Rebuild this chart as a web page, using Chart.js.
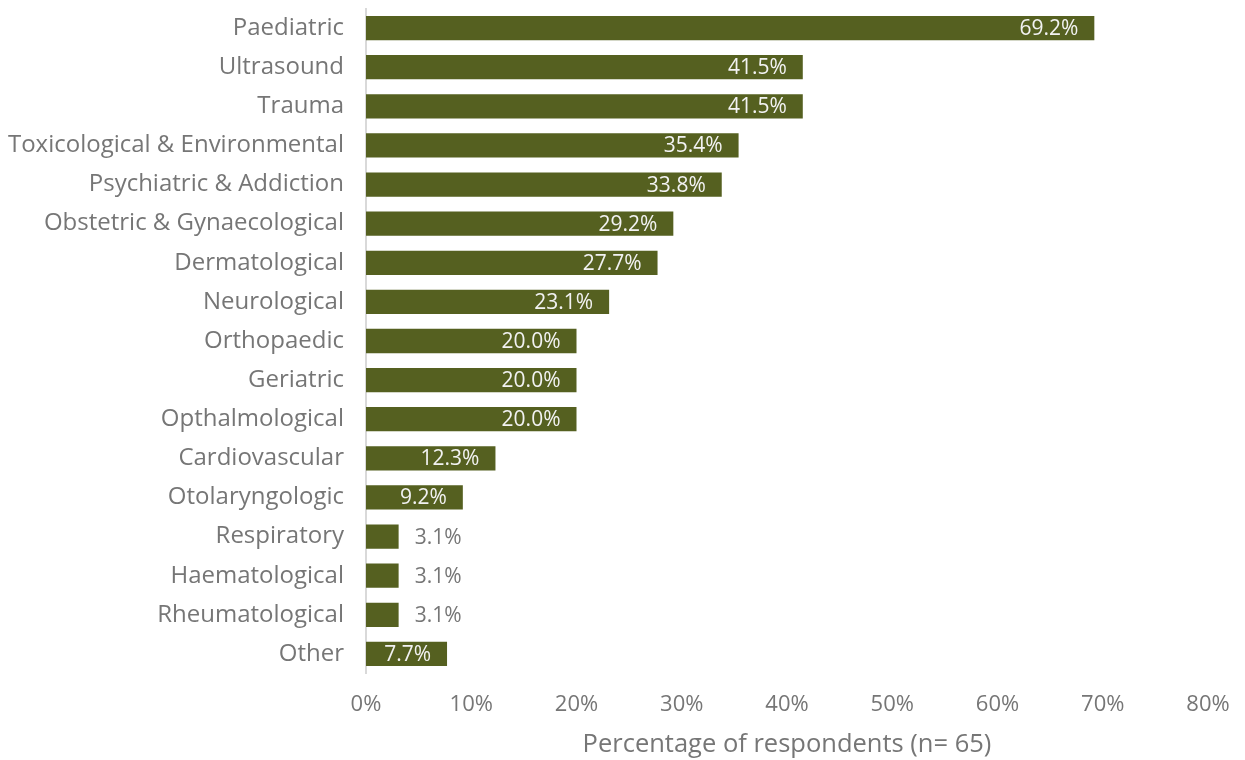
<!DOCTYPE html>
<html>
<head>
<meta charset="utf-8">
<script src="https://cdn.jsdelivr.net/npm/chart.js@4/dist/chart.umd.min.js"></script>
<style>
  html, body { margin: 0; padding: 0; background: #fff; }
  #wrap { width: 1245px; height: 760px; }
</style>
</head>
<body>
<div id="wrap"><canvas id="chart"></canvas></div>
<script>
const categories = [
  'Paediatric', 'Ultrasound', 'Trauma', 'Toxicological & Environmental',
  'Psychiatric & Addiction', 'Obstetric & Gynaecological', 'Dermatological',
  'Neurological', 'Orthopaedic', 'Geriatric', 'Opthalmological',
  'Cardiovascular', 'Otolaryngologic', 'Respiratory', 'Haematological',
  'Rheumatological', 'Other'
];
const percentages = [69.2, 41.5, 41.5, 35.4, 33.8, 29.2, 27.7, 23.1, 20.0, 20.0, 20.0, 12.3, 9.2, 3.1, 3.1, 3.1, 7.7];
const xTicks = [0, 10, 20, 30, 40, 50, 60, 70, 80];

const FONT = "'Open Sans', sans-serif";
const GREY = '#767676';

// value labels: inside the bar end when it fits, otherwise just past it
const barLabels = {
  id: 'barLabels',
  afterDatasetsDraw(chart) {
    const ctx = chart.ctx;
    const meta = chart.getDatasetMeta(0);
    ctx.save();
    ctx.font = '21px ' + FONT;
    ctx.textBaseline = 'middle';
    meta.data.forEach((bar, i) => {
      const txt = percentages[i].toFixed(1) + '%';
      const w = ctx.measureText(txt).width;
      const len = bar.x - bar.base;
      if (len > w + 24) {
        ctx.fillStyle = '#f2f2f2';
        ctx.textAlign = 'right';
        ctx.fillText(txt, bar.x - 16, bar.y + 1);
      } else {
        ctx.fillStyle = GREY;
        ctx.textAlign = 'left';
        ctx.fillText(txt, bar.x + 16, bar.y + 1);
      }
    });
    ctx.restore();
  }
};

new Chart(document.getElementById('chart'), {
  type: 'bar',
  data: {
    labels: categories,
    datasets: [{
      data: percentages,
      backgroundColor: '#556020',
      categoryPercentage: 0.62,
      barPercentage: 1.0
    }]
  },
  options: {
    indexAxis: 'y',
    responsive: true,
    maintainAspectRatio: false,
    animation: false,
    layout: { padding: { top: 8.5, right: 37, bottom: 0, left: 0 } },
    plugins: { legend: { display: false }, tooltip: { enabled: false } },
    scales: {
      x: {
        min: 0,
        max: 80,
        afterBuildTicks: (axis) => { axis.ticks = xTicks.map(v => ({ value: v })); },
        afterFit: (axis) => {
          axis.height = 86.5;
          axis.paddingLeft = 0;
          axis.paddingRight = 0;
        },
        grid: { display: false, drawTicks: false },
        border: { display: false },
        ticks: {
          padding: 18,
          color: GREY,
          font: { family: FONT, size: 22 },
          callback: (v) => v + '%'
        },
        title: {
          display: true,
          text: 'Percentage of respondents (n= 65)',
          color: GREY,
          font: { family: FONT, size: 25.5 },
          padding: { top: 8, bottom: 0 }
        }
      },
      y: {
        afterFit: (axis) => {
          axis.width = 366;
          axis.paddingTop = 0;
          axis.paddingBottom = 0;
        },
        grid: { display: false, drawTicks: false },
        border: { display: true, color: '#d9d9d9', width: 2 },
        ticks: {
          padding: 22,
          color: GREY,
          font: { family: FONT, size: 24 }
        }
      }
    }
  },
  plugins: [barLabels]
});
</script>
</body>
</html>
